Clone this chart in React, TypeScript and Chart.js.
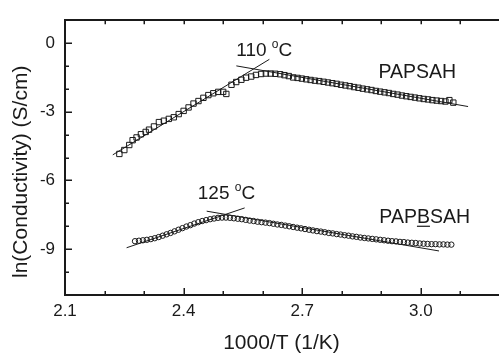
import React, { useEffect, useRef } from "react";
import { Chart, registerables } from "chart.js";

Chart.register(...registerables);

// ---- data ----
const papsahX = [
  2.2375, 2.25, 2.2625, 2.271, 2.281, 2.292, 2.304, 2.3125, 2.325, 2.3375,
  2.35, 2.3625, 2.375, 2.3875, 2.4, 2.4125, 2.425, 2.4375, 2.45, 2.4625,
  2.475, 2.4875, 2.5, 2.508, 2.521, 2.533, 2.546, 2.558, 2.571, 2.583,
  2.596, 2.608, 2.62, 2.632, 2.644, 2.655, 2.666, 2.677, 2.688, 2.699,
  2.71, 2.721, 2.732, 2.743, 2.754, 2.765, 2.776, 2.787, 2.798, 2.809,
  2.82, 2.831, 2.842, 2.853, 2.864, 2.875, 2.886, 2.897, 2.908, 2.919,
  2.93, 2.941, 2.952, 2.963, 2.974, 2.985, 2.996, 3.007, 3.018, 3.029,
  3.04, 3.051, 3.062, 3.072, 3.082,
];
const papsahY = [
  -4.84, -4.67, -4.45, -4.24, -4.12, -3.98, -3.88, -3.78, -3.64, -3.45,
  -3.39, -3.31, -3.24, -3.1, -2.96, -2.81, -2.64, -2.53, -2.39, -2.27,
  -2.19, -2.13, -2.13, -2.22, -1.82, -1.7, -1.6, -1.51, -1.46, -1.39,
  -1.35, -1.33, -1.33, -1.34, -1.36, -1.4, -1.44, -1.5, -1.52, -1.55,
  -1.58, -1.61, -1.64, -1.66, -1.69, -1.72, -1.75, -1.78, -1.82, -1.85,
  -1.88, -1.92, -1.95, -1.99, -2.02, -2.05, -2.09, -2.12, -2.15, -2.18,
  -2.22, -2.25, -2.29, -2.32, -2.35, -2.38, -2.41, -2.44, -2.46, -2.49,
  -2.51, -2.53, -2.55, -2.49, -2.6,
];

const papbsahX = [
  2.277, 2.287, 2.297, 2.307, 2.317, 2.327, 2.337, 2.347, 2.357, 2.367,
  2.377, 2.387, 2.397, 2.407, 2.417, 2.427, 2.437, 2.447, 2.457, 2.467,
  2.477, 2.487, 2.497, 2.507, 2.517, 2.527, 2.537, 2.547, 2.557, 2.567,
  2.577, 2.587, 2.597, 2.607, 2.617, 2.627, 2.637, 2.647, 2.657, 2.667,
  2.677, 2.687, 2.697, 2.707, 2.717, 2.727, 2.737, 2.747, 2.757, 2.767,
  2.777, 2.787, 2.797, 2.807, 2.817, 2.827, 2.837, 2.847, 2.857, 2.867,
  2.877, 2.887, 2.897, 2.907, 2.917, 2.927, 2.937, 2.947, 2.957, 2.967,
  2.977, 2.987, 2.997, 3.007, 3.017, 3.027, 3.037, 3.047, 3.057, 3.067,
  3.077,
];
const papbsahY = [
  -8.65, -8.63, -8.61, -8.59, -8.56, -8.52, -8.47, -8.41, -8.35, -8.29,
  -8.22, -8.15, -8.08, -8.01, -7.95, -7.88, -7.82, -7.77, -7.73, -7.69,
  -7.66, -7.63, -7.62, -7.62, -7.63, -7.65, -7.67, -7.69, -7.72, -7.75,
  -7.77, -7.8, -7.82, -7.84, -7.86, -7.89, -7.92, -7.94, -7.97, -8.0,
  -8.03, -8.06, -8.09, -8.12, -8.15, -8.18, -8.21, -8.23, -8.26, -8.29,
  -8.31, -8.34, -8.36, -8.39, -8.41, -8.44, -8.46, -8.49, -8.51, -8.53,
  -8.55, -8.57, -8.59, -8.61, -8.63, -8.65, -8.66, -8.68, -8.69, -8.71,
  -8.72, -8.73, -8.75, -8.76, -8.77, -8.78, -8.78, -8.79, -8.79, -8.8,
  -8.8,
];

// linear fit segments (endpoints)
const fitPapsahLowX = [2.2208, 2.6168];
const fitPapsahLowY = [-4.88, -0.708];
const fitPapsahHighX = [2.5333, 3.1193];
const fitPapsahHighY = [-0.994, -2.77];
const fitPapbsahLowX = [2.2558, 2.5543];
const fitPapbsahLowY = [-8.936, -7.198];
const fitPapbsahHighX = [2.4583, 3.0458];
const fitPapbsahHighY = [-7.339, -9.077];

// ticks
const xMajorTicks = [2.1, 2.4, 2.7, 3.0];
const xMinorTicks = [2.2, 2.3, 2.5, 2.6, 2.8, 2.9, 3.1];
const yMajorTicks = [0, -3, -6, -9];
const yMinorTicks = [-1, -2, -4, -5, -7, -8, -10];

// texts
const xTitle = "1000/T (1/K)";
const yTitle = "ln(Conductivity) (S/cm)";
const seriesNames = ["PAPSAH", "PAPBSAH"];
const tempLabels = ["110", "125"];

// ---- styling / layout ----
const FONT = 'Arial, "Liberation Sans", Helvetica, sans-serif';
const INK = "#1a1a1a";

const zip = (xs: number[], ys: number[]) => xs.map((x, i) => ({ x, y: ys[i] }));

// annotation anchors (data coordinates)
const tempAnno = [
  { text: tempLabels[0], x: 2.533, y: -0.567 },
  { text: tempLabels[1], x: 2.4358, y: -6.827 },
];
const nameAnno = [
  { text: seriesNames[0], x: 2.8925, y: -1.532, underline: -1 },
  { text: seriesNames[1], x: 2.895, y: -7.868, underline: 3 },
];

const frameTicks = {
  id: "frameTicks",
  afterDraw(chart: any) {
    const { ctx, chartArea, scales } = chart;
    const xs = scales.x;
    const ys = scales.y;
    ctx.save();
    ctx.strokeStyle = INK;
    ctx.lineWidth = 1.5;
    ctx.beginPath();
    const bx = (v: number, len: number) => {
      const p = Math.round(xs.getPixelForValue(v)) + 0.25;
      ctx.moveTo(p, chartArea.bottom);
      ctx.lineTo(p, chartArea.bottom - len);
      ctx.moveTo(p, chartArea.top);
      ctx.lineTo(p, chartArea.top + 4);
    };
    xMajorTicks.forEach((v) => bx(v, 7));
    xMinorTicks.forEach((v) => bx(v, 4));
    const ly = (v: number, len: number) => {
      const p = Math.round(ys.getPixelForValue(v)) + 0.25;
      ctx.moveTo(chartArea.left, p);
      ctx.lineTo(chartArea.left + len, p);
    };
    yMajorTicks.forEach((v) => ly(v, 7));
    yMinorTicks.forEach((v) => ly(v, 4));
    ctx.stroke();

    // y axis title
    ctx.fillStyle = INK;
    ctx.font = `21px ${FONT}`;
    ctx.textAlign = "center";
    ctx.textBaseline = "middle";
    ctx.translate(chartArea.left - 43.5, ys.getPixelForValue(-5.62));
    ctx.rotate(-Math.PI / 2);
    ctx.fillText(yTitle, 0, 0);
    ctx.restore();

    // annotations
    ctx.save();
    ctx.fillStyle = INK;
    ctx.strokeStyle = INK;
    ctx.textAlign = "left";
    ctx.textBaseline = "alphabetic";
    tempAnno.forEach((a) => {
      const px = xs.getPixelForValue(a.x);
      const py = ys.getPixelForValue(a.y);
      ctx.font = `19px ${FONT}`;
      const main = a.text + " ";
      ctx.fillText(main, px, py);
      let w = ctx.measureText(main).width;
      ctx.font = `12px ${FONT}`;
      ctx.fillText("o", px + w, py - 8);
      w += ctx.measureText("o").width;
      ctx.font = `19px ${FONT}`;
      ctx.fillText("C", px + w, py);
    });
    nameAnno.forEach((a) => {
      const px = xs.getPixelForValue(a.x);
      const py = ys.getPixelForValue(a.y);
      ctx.font = `19.5px ${FONT}`;
      ctx.fillText(a.text, px, py);
      if (a.underline >= 0) {
        const pre = ctx.measureText(a.text.slice(0, a.underline)).width;
        const cw = ctx.measureText(a.text[a.underline]).width;
        ctx.lineWidth = 1.2;
        ctx.beginPath();
        ctx.moveTo(px + pre, py + 3);
        ctx.lineTo(px + pre + cw, py + 3);
        ctx.stroke();
      }
    });
    ctx.restore();
  },
};

const fitLine = (xs: number[], ys: number[]) => ({
  type: "line" as const,
  data: zip(xs, ys),
  showLine: true,
  borderColor: INK,
  borderWidth: 1,
  pointRadius: 0,
  fill: false,
});

export default function App() {
  const ref = useRef<HTMLCanvasElement>(null);

  useEffect(() => {
    if (!ref.current) return;
    const chart = new Chart(ref.current, {
      type: "scatter",
      data: {
        datasets: [
          {
            label: seriesNames[0],
            data: zip(papsahX, papsahY),
            pointStyle: "rect",
            pointRadius: 3.8,
            borderColor: INK,
            backgroundColor: "rgba(0,0,0,0)",
            borderWidth: 1,
          },
          {
            label: seriesNames[1],
            data: zip(papbsahX, papbsahY),
            pointStyle: "circle",
            pointRadius: 2.7,
            borderColor: INK,
            backgroundColor: "rgba(0,0,0,0)",
            borderWidth: 1,
          },
          fitLine(fitPapsahLowX, fitPapsahLowY),
          fitLine(fitPapsahHighX, fitPapsahHighY),
          fitLine(fitPapbsahLowX, fitPapbsahLowY),
          fitLine(fitPapbsahHighX, fitPapbsahHighY),
        ] as any,
      },
      options: {
        animation: false,
        responsive: false,
        events: [],
        layout: { padding: 0 },
        plugins: { legend: { display: false }, tooltip: { enabled: false } },
        scales: {
          x: {
            type: "linear",
            position: "bottom",
            min: 2.1,
            max: 3.195,
            afterBuildTicks: (s: any) => {
              s.ticks = xMajorTicks.map((v) => ({ value: v }));
            },
            afterFit: (s: any) => {
              s.height = 59;
            },
            grid: { display: false, drawTicks: false },
            border: { display: true, color: INK, width: 2 },
            ticks: {
              color: INK,
              font: { family: FONT, size: 17 },
              padding: 6,
              maxRotation: 0,
              callback: (v: any) => Number(v).toFixed(1),
            },
            title: {
              display: true,
              text: xTitle,
              color: INK,
              font: { family: FONT, size: 21, lineHeight: 1 },
              padding: 0,
            },
          },
          x2: {
            type: "linear",
            position: "top",
            min: 2.1,
            max: 3.195,
            afterFit: (s: any) => {
              s.height = 14;
            },
            grid: { display: false, drawTicks: false },
            border: { display: true, color: INK, width: 2 },
            ticks: { display: false },
          },
          y: {
            type: "linear",
            position: "left",
            min: -11,
            max: 1,
            afterBuildTicks: (s: any) => {
              s.ticks = yMajorTicks.map((v) => ({ value: v }));
            },
            afterFit: (s: any) => {
              s.width = 65;
            },
            grid: { display: false, drawTicks: false },
            border: { display: true, color: INK, width: 2 },
            ticks: {
              color: INK,
              font: { family: FONT, size: 17 },
              padding: 10,
              callback: (v: any) => String(v),
            },
          },
        } as any,
      },
      plugins: [frameTicks],
    });
    return () => chart.destroy();
  }, []);

  return (
    <div style={{ position: "fixed", left: 0, top: 0, width: 503, height: 354, background: "#fff" }}>
      <canvas ref={ref} width={503} height={354} style={{ display: "block" }} />
    </div>
  );
}
